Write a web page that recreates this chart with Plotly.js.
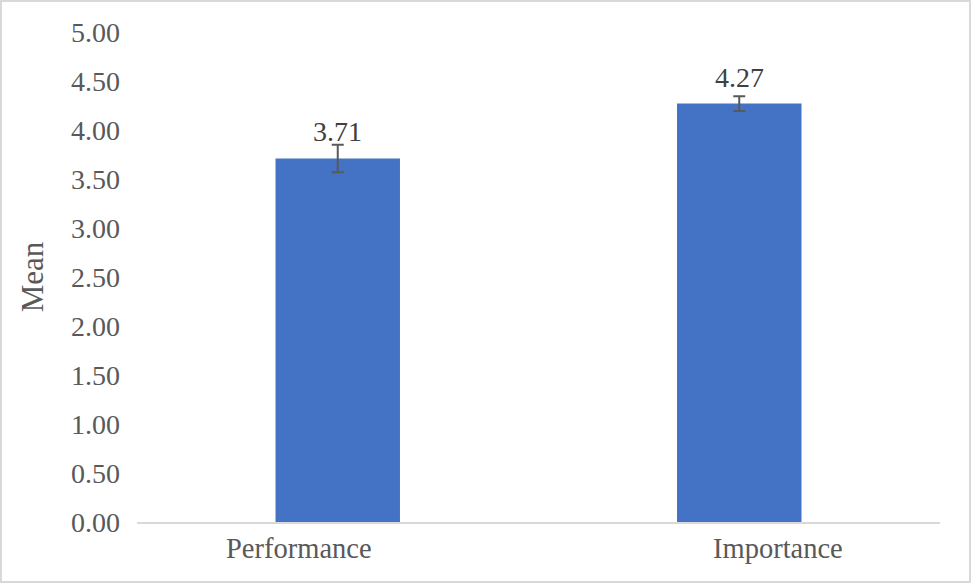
<!DOCTYPE html>
<html>
<head>
<meta charset="utf-8">
<script src="https://cdn.plot.ly/plotly-3.0.1.min.js"></script>
<style>
  html, body { margin: 0; padding: 0; background: #fff; }
  #frame { width: 971px; height: 583px; box-sizing: border-box; border: 2px solid #d9d9d9; }
  #chart { width: 967px; height: 579px; }
</style>
</head>
<body>
<div id="frame"><div id="chart"></div></div>
<script>
// data
const categories = ['Performance', 'Importance'];
const means = [3.71, 4.27];
const errors = [0.14, 0.075];
const labelShift = [-39, 39]; // category labels sit off-centre in the original

const FONT = 'Liberation Serif, Times New Roman, serif';

let trace = {
  x: categories,
  y: means,
  type: 'bar',
  width: 0.31,
  marker: { color: '#4472c4' },
  error_y: {
    type: 'data',
    array: errors,
    visible: true,
    color: '#595959',
    thickness: 2,
    width: 6
  },
  hoverinfo: 'none'
};

let annotations = [];
for (let i = 0; i < categories.length; i++) {
  // value labels above the bars
  annotations.push({
    x: categories[i],
    y: means[i],
    xref: 'x',
    yref: 'y',
    text: means[i].toFixed(2),
    showarrow: false,
    yanchor: 'bottom',
    yshift: 9,
    font: { family: FONT, size: 28, color: '#404040' }
  });
  // category labels
  annotations.push({
    x: categories[i],
    y: 0,
    xref: 'x',
    yref: 'y',
    text: categories[i],
    showarrow: false,
    yanchor: 'top',
    yshift: -9,
    xshift: labelShift[i],
    font: { family: FONT, size: 28.5, color: '#595959' }
  });
}

let layout = {
  width: 967,
  height: 579,
  margin: { l: 135, r: 29, t: 30, b: 59, pad: 0 },
  paper_bgcolor: '#ffffff',
  plot_bgcolor: '#ffffff',
  showlegend: false,
  font: { family: FONT, color: '#595959' },
  xaxis: {
    type: 'category',
    range: [-0.5, 1.5],
    showticklabels: false,
    ticks: '',
    showgrid: false,
    zeroline: false,
    showline: true,
    linecolor: '#d9d9d9',
    linewidth: 2,
    fixedrange: true
  },
  yaxis: {
    range: [0, 5],
    dtick: 0.5,
    tickformat: '.2f',
    showgrid: false,
    zeroline: false,
    showline: false,
    ticks: '',
    ticklabelstandoff: 16,
    tickfont: { family: FONT, size: 28, color: '#595959' },
    title: {
      text: 'Mean',
      standoff: 18,
      font: { family: FONT, size: 31, color: '#595959' }
    },
    fixedrange: true
  },
  annotations: annotations
};

Plotly.newPlot('chart', [trace], layout, { displayModeBar: false, staticPlot: true });
</script>
</body>
</html>
